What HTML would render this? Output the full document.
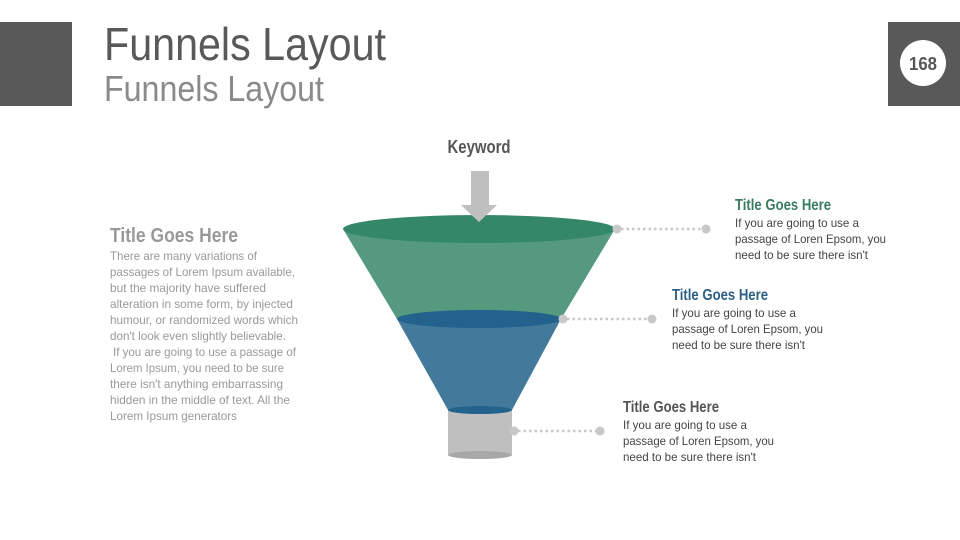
<!DOCTYPE html>
<html><head><meta charset="utf-8"><style>
html,body{margin:0;padding:0;background:#fff;}
svg{display:block;font-family:"Liberation Sans",sans-serif;}
</style></head><body>
<svg width="960" height="540" viewBox="0 0 960 540" xmlns="http://www.w3.org/2000/svg">
<rect x="0" y="22" width="72" height="84" fill="#595959"/>
<rect x="888" y="22" width="72" height="84" fill="#595959"/>
<circle cx="923" cy="63" r="23" fill="#fff"/>
<text x="923" y="70" text-anchor="middle" font-size="18" font-weight="bold" fill="#555" textLength="28" lengthAdjust="spacingAndGlyphs">168</text>
<text x="104" y="60" font-size="46" fill="#595959" textLength="282" lengthAdjust="spacingAndGlyphs">Funnels Layout</text>
<text x="104" y="101" font-size="36" fill="#8a8a8a" textLength="220" lengthAdjust="spacingAndGlyphs">Funnels Layout</text>

<text x="479" y="153" text-anchor="middle" font-size="18" font-weight="bold" fill="#555" textLength="63" lengthAdjust="spacingAndGlyphs">Keyword</text>

<!-- funnel -->
<path d="M343,229 L397,319 L561,319 L615,229 Z" fill="#559a7f"/>
<ellipse cx="479" cy="229" rx="136" ry="14" fill="#358867"/>
<path d="M397,319 L448,410 L512,410 L561,319 Z" fill="#437a9c"/>
<ellipse cx="479" cy="319" rx="82" ry="9" fill="#22628d"/>
<rect x="448" y="410" width="64" height="45" fill="#bfbfbf"/>
<ellipse cx="480" cy="455" rx="32" ry="4" fill="#a8a8a8"/>
<ellipse cx="480" cy="410" rx="32" ry="4" fill="#22628d"/>
<!-- arrow -->
<path d="M471,171 L489,171 L489,205 L497,205 L479,222 L461,205 L471,205 Z" fill="#bfbfbf"/>

<!-- connectors -->
<g stroke="#c8c8c8" stroke-width="2.5" stroke-dasharray="2.5,3">
<line x1="621" y1="229" x2="702" y2="229"/>
<line x1="567" y1="319" x2="648" y2="319"/>
<line x1="518" y1="431" x2="596" y2="431"/>
</g>
<g fill="#c8c8c8">
<circle cx="617" cy="229" r="4.5"/><circle cx="706" cy="229" r="4.5"/>
<circle cx="563" cy="319" r="4.5"/><circle cx="652" cy="319" r="4.5"/>
<circle cx="514" cy="431" r="4.5"/><circle cx="600" cy="431" r="4.5"/>
</g>

<g font-size="12" fill="#444">
<text x="735" y="210" font-size="16" font-weight="bold" fill="#3a7d5e" textLength="96" lengthAdjust="spacingAndGlyphs">Title Goes Here</text>
<text x="735" y="227" textLength="124" lengthAdjust="spacingAndGlyphs">If you are going to use a</text>
<text x="735" y="243" textLength="151" lengthAdjust="spacingAndGlyphs">passage of Loren Epsom, you</text>
<text x="735" y="259" textLength="133" lengthAdjust="spacingAndGlyphs">need to be sure there isn't</text>

<text x="672" y="300" font-size="16" font-weight="bold" fill="#2c5f85" textLength="96" lengthAdjust="spacingAndGlyphs">Title Goes Here</text>
<text x="672" y="317" textLength="124" lengthAdjust="spacingAndGlyphs">If you are going to use a</text>
<text x="672" y="333" textLength="151" lengthAdjust="spacingAndGlyphs">passage of Loren Epsom, you</text>
<text x="672" y="349" textLength="133" lengthAdjust="spacingAndGlyphs">need to be sure there isn't</text>

<text x="623" y="412" font-size="16" font-weight="bold" fill="#555" textLength="96" lengthAdjust="spacingAndGlyphs">Title Goes Here</text>
<text x="623" y="429" textLength="124" lengthAdjust="spacingAndGlyphs">If you are going to use a</text>
<text x="623" y="445" textLength="151" lengthAdjust="spacingAndGlyphs">passage of Loren Epsom, you</text>
<text x="623" y="461" textLength="133" lengthAdjust="spacingAndGlyphs">need to be sure there isn't</text>
</g>

<g font-size="12" fill="#999">
<text x="110" y="242" font-size="20" font-weight="bold" textLength="128" lengthAdjust="spacingAndGlyphs">Title Goes Here</text>
<text x="110" y="260" textLength="147" lengthAdjust="spacingAndGlyphs">There are many variations of</text>
<text x="110" y="276" textLength="185" lengthAdjust="spacingAndGlyphs">passages of Lorem Ipsum available,</text>
<text x="110" y="292" textLength="156" lengthAdjust="spacingAndGlyphs">but the majority have suffered</text>
<text x="110" y="308" textLength="183" lengthAdjust="spacingAndGlyphs">alteration in some form, by injected</text>
<text x="110" y="324" textLength="188" lengthAdjust="spacingAndGlyphs">humour, or randomized words which</text>
<text x="110" y="340" textLength="176" lengthAdjust="spacingAndGlyphs">don't look even slightly believable.</text>
<text x="113" y="356" textLength="183" lengthAdjust="spacingAndGlyphs">If you are going to use a passage of</text>
<text x="110" y="372" textLength="174" lengthAdjust="spacingAndGlyphs">Lorem Ipsum, you need to be sure</text>
<text x="110" y="388" textLength="173" lengthAdjust="spacingAndGlyphs">there isn't anything embarrassing</text>
<text x="110" y="404" textLength="180" lengthAdjust="spacingAndGlyphs">hidden in the middle of text. All the</text>
<text x="110" y="420" textLength="127" lengthAdjust="spacingAndGlyphs">Lorem Ipsum generators</text>
</g>
</svg>
</body></html>
